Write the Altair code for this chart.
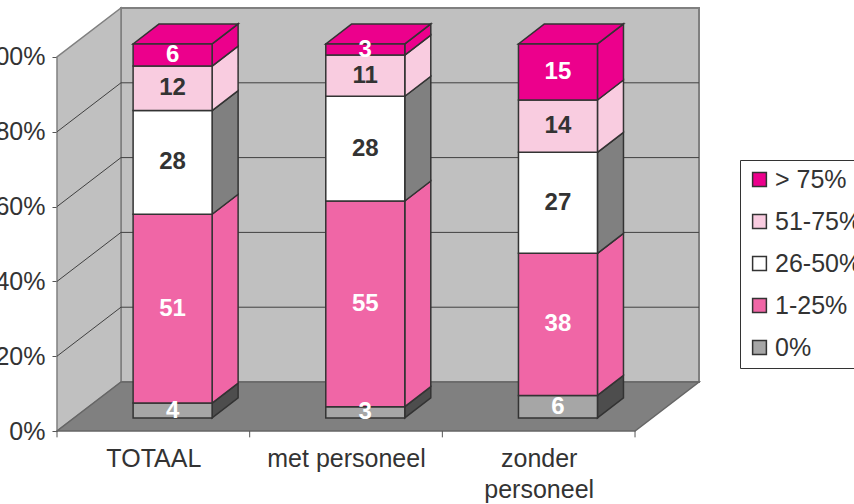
import altair as alt
import pandas as pd

# ---------------- data ----------------
categories = ["TOTAAL", "met personeel", "zonder personeel"]
series = ["0%", "1-25%", "26-50%", "51-75%", "> 75%"]  # stacking order, bottom -> top
v_0 = [4, 3, 6]
v_1_25 = [51, 55, 38]
v_26_50 = [28, 28, 27]
v_51_75 = [12, 11, 14]
v_gt75 = [6, 3, 15]
y_ticks = [0, 20, 40, 60, 80, 100]

series_values = [v_0, v_1_25, v_26_50, v_51_75, v_gt75]

# ---------------- style ----------------
front_colors = ["#A6A6A6", "#F066A6", "#FFFFFF", "#F9CCE0", "#EC008C"]
side_colors = ["#4D4D4D", "#F066A6", "#808080", "#F9CCE0", "#EC008C"]
label_colors = ["#FFFFFF", "#FFFFFF", "#333333", "#333333", "#FFFFFF"]
FONT = "Liberation Sans"

N = len(categories)
DX, DY = 0.332, 13.1          # depth of the 3-D box (x units, % units)
BX, BY = 0.10, 3.5            # offset of bar front plane from box front plane
HW = 0.205                    # half bar width
BDX, BDY = 0.135, 5.35        # bar depth
XMAX, YMAX = N + DX, 100 + DY

xs = alt.Scale(domain=[0, XMAX], nice=False, zero=False)
ys = alt.Scale(domain=[0, YMAX], nice=False, zero=False)

# ---------------- geometry from data ----------------
front, side, top, labs = [], [], [], []
for i, c in enumerate(categories):
    vals = [sv[i] for sv in series_values]
    tot = float(sum(vals))
    xc = i + 0.5 + BX
    x0, x1 = xc - HW, xc + HW
    cum = 0.0
    y1 = BY
    for k, s in enumerate(series):
        v = vals[k]
        y0 = BY + cum * 100 / tot
        cum += v
        y1 = BY + cum * 100 / tot
        fid = f"{i}-{k}"
        front.append(dict(cat=c, s=s, x0=x0, x1=x1, y0=y0, y1=y1))
        side.append(dict(f=fid, x=x1, y=y0, y2=y1, fill=side_colors[k]))
        side.append(dict(f=fid, x=x1 + BDX, y=y0 + BDY, y2=y1 + BDY, fill=side_colors[k]))
        labs.append(dict(x=xc, y=(y0 + y1) / 2, t=str(v), col=label_colors[k]))
    top.append(dict(f=i, y=y1, x=x0, x2=x1, fill=front_colors[-1]))
    top.append(dict(f=i, y=y1 + BDY, x=x0 + BDX, x2=x1 + BDX, fill=front_colors[-1]))

df_front = pd.DataFrame(front)
df_side = pd.DataFrame(side)
df_top = pd.DataFrame(top)
df_lab = pd.DataFrame(labs)

df_back = pd.DataFrame([dict(x=DX, x2=N + DX, y=DY, y2=100 + DY)])
df_left = pd.DataFrame([dict(x=0, y=0, y2=100), dict(x=DX, y=DY, y2=100 + DY)])
df_floor = pd.DataFrame([dict(y=0, x=0, x2=N), dict(y=DY, x=DX, x2=N + DX)])
grid_vals = [t for t in y_ticks if 0 < t < 100]
df_gback = pd.DataFrame([dict(x=DX, x2=N + DX, y=t + DY) for t in grid_vals])
df_gleft = pd.DataFrame([dict(x=0, x2=DX, y=t, y2=t + DY) for t in grid_vals])
df_xt = pd.DataFrame([dict(x=i, y=0, y2=-1.7) for i in range(N + 1)])

# x labels: categories, long ones wrapped on two lines
def lab_js(c):
    if len(c) > 14:
        parts = c.split(" ")
        return "[" + ",".join("'%s'" % p for p in parts) + "]"
    return "'%s'" % c

expr = "''"
for i in reversed(range(N)):
    expr = "datum.value == %s ? %s : (%s)" % (i + 0.5, lab_js(categories[i]), expr)

X_AXIS = alt.Axis(values=[i + 0.5 for i in range(N)], labelExpr=expr,
                  ticks=False, domain=False, grid=False, title=None,
                  labelFont=FONT, labelFontSize=25, labelColor="#333333",
                  labelPadding=15, labelLineHeight=31, labelAngle=0)
Y_AXIS = alt.Axis(values=y_ticks, labelExpr="datum.value + '%'",
                  domain=False, grid=False, title=None,
                  tickSize=5, tickColor="#555555", tickWidth=1,
                  labelFont=FONT, labelFontSize=25, labelColor="#333333",
                  labelPadding=7)


def X(f):
    return alt.X(f, scale=xs, axis=X_AXIS)


def Y(f):
    return alt.Y(f, scale=ys, axis=Y_AXIS)


# ---------------- layers ----------------
back = alt.Chart(df_back).mark_rect(fill="#C0C0C0", stroke="#808080", strokeWidth=2).encode(
    x=X("x:Q"), x2="x2", y=Y("y:Q"), y2="y2")

left = alt.Chart(df_left).mark_area(fill="#C0C0C0", stroke="#808080", strokeWidth=1.5).encode(
    x=X("x:Q"), y=Y("y:Q"), y2="y2")

floor = alt.Chart(df_floor).mark_area(orient="horizontal", fill="#808080", stroke="#666666",
                                      strokeWidth=1.5).encode(
    y=Y("y:Q"), x=X("x:Q"), x2="x2")

gback = alt.Chart(df_gback).mark_rule(color="#404040", strokeWidth=1).encode(
    x=X("x:Q"), x2="x2", y=Y("y:Q"))

gleft = alt.Chart(df_gleft).mark_rule(color="#404040", strokeWidth=1).encode(
    x=X("x:Q"), x2="x2", y=Y("y:Q"), y2="y2")

xticks = alt.Chart(df_xt).mark_rule(color="#555555", strokeWidth=1).encode(
    x=X("x:Q"), y=Y("y:Q"), y2="y2")

sides = alt.Chart(df_side).mark_area(stroke="#333333", strokeWidth=1.5, opacity=1).encode(
    x=X("x:Q"), y=Y("y:Q"), y2="y2",
    detail="f:N", fill=alt.Fill("fill:N", scale=None))

tops = alt.Chart(df_top).mark_area(orient="horizontal", stroke="#333333", strokeWidth=1.5,
                                   opacity=1).encode(
    y=Y("y:Q"), x=X("x:Q"), x2="x2",
    detail="f:N", fill=alt.Fill("fill:N", scale=None))

legend_order = list(reversed(series))
legend_colors = list(reversed(front_colors))

fronts = alt.Chart(df_front).mark_rect(stroke="#333333", strokeWidth=1.5, opacity=1).encode(
    x=X("x0:Q"), x2="x1", y=Y("y0:Q"), y2="y1",
    fill=alt.Fill("s:N", scale=alt.Scale(domain=legend_order, range=legend_colors),
                  legend=alt.Legend(orient="none", legendX=683, legendY=152, title=None,
                                    symbolType="square", symbolSize=190,
                                    symbolStrokeColor="#333333", symbolStrokeWidth=1.5,
                                    labelFont=FONT, labelFontSize=25, labelColor="#333333",
                                    labelLimit=300, rowPadding=16, padding=7, labelOffset=3,
                                    strokeColor="#333333", fillColor="#FFFFFF")),
)

texts = alt.Chart(df_lab).mark_text(font=FONT, fontSize=24, fontWeight="bold").encode(
    x=X("x:Q"), y=Y("y:Q"), text="t:N", color=alt.Color("col:N", scale=None))

chart = alt.layer(back, left, floor, gback, gleft, xticks, sides, tops, fronts, texts).properties(
    width=642, height=423,
    autosize=alt.AutoSizeParams(type="none"),
    padding={"left": 57, "top": 8, "right": 155, "bottom": 73},
    background="#FFFFFF",
).configure_view(strokeWidth=0)

chart.save("out.html", embed_options={"renderer": "svg", "actions": False})
